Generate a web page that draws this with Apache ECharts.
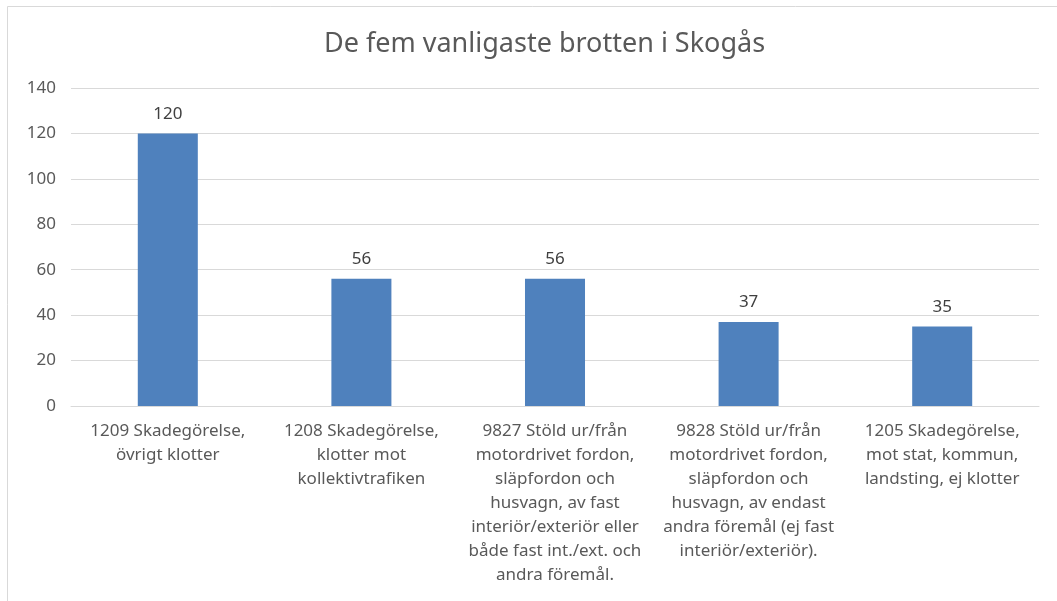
<!DOCTYPE html>
<html>
<head>
<meta charset="utf-8">
<script src="https://cdn.jsdelivr.net/npm/echarts@6/dist/echarts.min.js"></script>
<style>html,body{margin:0;padding:0;background:#fff}#c{width:1057px;height:601px}</style>
</head>
<body>
<div id="c"></div>
<script>
const title = 'De fem vanligaste brotten i Skogås';
const categories = [
  '1209 Skadegörelse,\növrigt klotter',
  '1208 Skadegörelse,\nklotter mot\nkollektivtrafiken',
  '9827 Stöld ur/från\nmotordrivet fordon,\nsläpfordon och\nhusvagn, av fast\ninteriör/exteriör eller\nbåde fast int./ext. och\nandra föremål.',
  '9828 Stöld ur/från\nmotordrivet fordon,\nsläpfordon och\nhusvagn, av endast\nandra föremål (ej fast\ninteriör/exteriör).',
  '1205 Skadegörelse,\nmot stat, kommun,\nlandsting, ej klotter'
];
const values = [120, 56, 56, 37, 35];
const yTicks = [0, 20, 40, 60, 80, 100, 120, 140];

const font = '"Noto Sans", "Open Sans", sans-serif';
const chart = echarts.init(document.getElementById('c'), null, {renderer: 'canvas'});
chart.setOption({
  animation: false,
  backgroundColor: '#fff',
  graphic: [{
    type: 'rect', shape: {x: 7.5, y: 6.5, width: 1060, height: 600},
    style: {fill: 'none', stroke: '#d9d9d9', lineWidth: 1}, silent: true
  }],
  title: {
    text: title, left: 319, top: 26,
    textStyle: {fontFamily: font, fontSize: 27, fontWeight: 'normal', color: '#595959'}
  },
  grid: {left: 71, right: 18, top: 88, bottom: 195, containLabel: false},
  xAxis: {
    type: 'category', data: categories,
    axisLine: {lineStyle: {color: '#d9d9d9', width: 1}},
    axisTick: {show: false},
    axisLabel: {interval: 0, margin: 13, fontFamily: font, fontSize: 17, color: '#595959', lineHeight: 24, verticalAlign: 'top'}
  },
  yAxis: {
    type: 'value', min: yTicks[0], max: yTicks[yTicks.length - 1], interval: 20,
    axisLine: {show: false}, axisTick: {show: false},
    splitLine: {lineStyle: {color: '#d9d9d9', width: 1}},
    axisLabel: {margin: 15, fontFamily: font, fontSize: 17, color: '#595959'}
  },
  series: [{
    type: 'bar', data: values, barWidth: '31%',
    itemStyle: {color: '#4f81bd'},
    label: {show: true, position: 'top', distance: 11, fontFamily: font, fontSize: 17, color: '#404040'}
  }]
});
</script>
</body>
</html>
